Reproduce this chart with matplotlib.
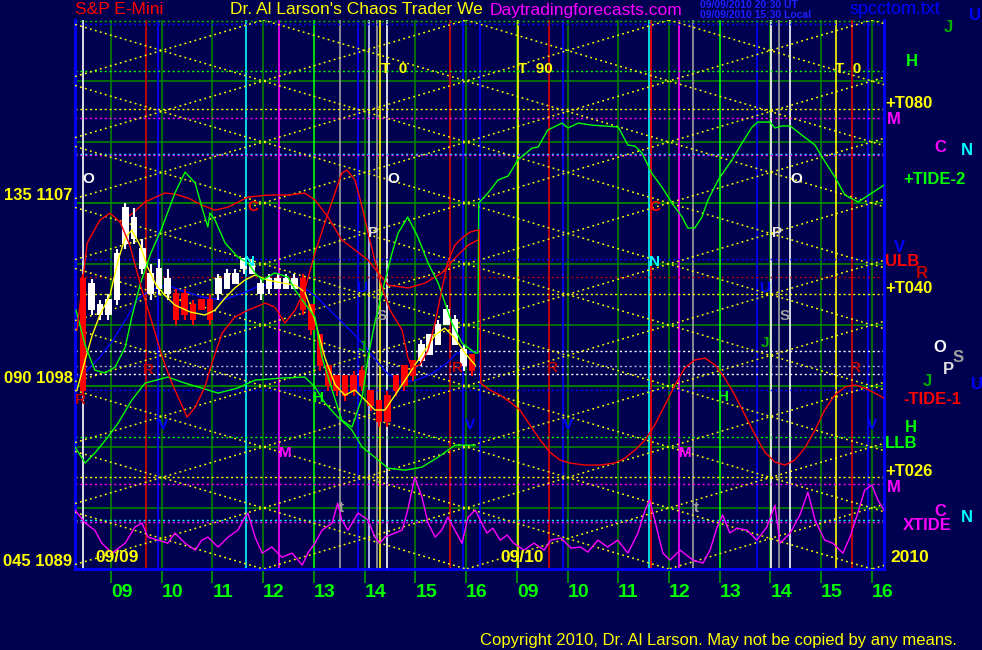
import numpy as np
import matplotlib.pyplot as plt

plt.rcParams['font.family'] = ['Liberation Sans', 'DejaVu Sans']

BG = '#000050'
W, H = 982, 650

# ---------------- axes ranges / labels
price_lo, price_hi = 1089, 1116
hour_lo, hour_hi = 8.29, 24.24
hour_ticks = list(range(9, 25))
hour_labels = ['09', '10', '11', '12', '13', '14', '15', '16'] * 2
grid_prices = [1092, 1095, 1098, 1101, 1104, 1107, 1110, 1113]
left_labels = [(1107, '135 1107'), (1098, '090 1098'), (1089, '045 1089')]

# ---------------- candles (10 min bars, day 1)
bar_start = 8.45
bar_open = [1103.25, 1101.75, 1101.5, 1101.5, 1102.25, 1105.0, 1105.25, 1103.75, 1102.5, 1102.75,
            1102.5, 1102.5, 1102.5, 1102.0, 1102.25, 1102.25, 1102.5, 1102.75, 1103.0, 1103.75,
            1103.5, 1102.5, 1102.75, 1102.75, 1102.75, 1102.75, 1103.25, 1102.0, 1100.5, 1099.0,
            1098.5, 1098.5, 1098.5, 1098.75, 1097.75, 1097.25, 1097.5, 1098.5, 1099.0, 1099.25,
            1099.25, 1099.5, 1100.0, 1101.0, 1100.0, 1099.0, 1099.5]
bar_high = [1103.5, 1103.25, 1102.25, 1102.5, 1104.75, 1107.0, 1106.75, 1105.25, 1104.0, 1104.25,
            1103.75, 1102.75, 1102.75, 1102.25, 1102.25, 1102.5, 1103.5, 1103.75, 1103.75, 1104.25,
            1104.25, 1103.25, 1103.5, 1103.5, 1103.5, 1103.5, 1103.5, 1102.0, 1100.5, 1099.0,
            1098.5, 1098.5, 1098.75, 1099.0, 1097.75, 1097.25, 1097.75, 1098.5, 1099.0, 1099.25,
            1100.25, 1100.5, 1101.25, 1102.0, 1101.5, 1100.0, 1099.5]
bar_low = [1097.5, 1101.5, 1101.25, 1101.25, 1102.0, 1104.75, 1105.0, 1103.5, 1102.25, 1102.5,
           1102.25, 1101.0, 1101.25, 1101.0, 1101.75, 1101.0, 1102.25, 1102.75, 1103.0, 1103.5,
           1103.5, 1102.25, 1102.5, 1102.75, 1102.75, 1102.75, 1101.5, 1100.5, 1098.75, 1097.75,
           1097.5, 1097.25, 1097.5, 1097.75, 1096.75, 1096.0, 1096.0, 1097.5, 1097.75, 1098.25,
           1099.0, 1099.5, 1100.0, 1101.0, 1100.0, 1098.75, 1098.5]
bar_close = [1097.75, 1103.0, 1102.0, 1102.25, 1104.5, 1106.75, 1106.25, 1104.75, 1103.5, 1103.75,
             1103.25, 1101.25, 1101.5, 1101.25, 1101.75, 1101.25, 1103.25, 1103.5, 1103.5, 1104.25,
             1104.0, 1103.0, 1103.25, 1103.25, 1103.25, 1103.25, 1101.75, 1100.75, 1099.0, 1098.0,
             1097.75, 1097.5, 1097.75, 1098.0, 1097.0, 1096.25, 1096.25, 1097.75, 1098.0, 1098.5,
             1100.0, 1100.5, 1101.0, 1101.75, 1101.25, 1099.75, 1098.75]

# ---------------- curves
red1_h = [8.33, 8.53, 8.78, 8.98, 9.18, 9.37, 9.61, 9.81, 10.01, 10.2, 10.5, 10.66, 10.85, 10.99,
          11.19, 11.44, 11.7, 12.04, 12.23, 12.43, 12.63, 12.82, 13.02, 13.28, 13.55, 13.65, 13.81,
          13.95, 14.07, 14.2, 14.34, 14.5, 14.74, 14.85, 14.93, 15.09, 15.25, 15.39, 15.52, 15.64,
          15.78, 15.92, 16.08, 16.23, 16.26, 16.29, 16.47, 16.67, 16.87, 17.06, 17.26, 17.46, 17.65,
          17.85, 18.05, 18.34, 18.64, 18.93, 19.13, 19.33, 19.53, 19.72, 19.92, 20.12, 20.31, 20.51,
          20.71, 20.91, 21.1, 21.3, 21.5, 21.7, 21.89, 22.09, 22.29, 22.48, 22.68, 22.88, 23.07,
          23.27, 23.47, 23.67, 23.86, 24.06, 24.24]
red1_p = [1100.75, 1105.03, 1106.16, 1106.5, 1106.06, 1104.93, 1102.72, 1101.1, 1099.42, 1098.14,
          1096.47, 1096.96, 1097.95, 1099.13, 1100.6, 1101.39, 1101.73, 1102.08, 1101.88, 1101.1,
          1101.73, 1102.72, 1104.54, 1106.51, 1108.47, 1108.62, 1108.13, 1106.8, 1105.52, 1104.19,
          1102.87, 1101.73, 1100.75, 1099.42, 1098.93, 1099.03, 1099.77, 1101.1, 1102.72, 1104.1,
          1104.93, 1105.28, 1105.57, 1105.67, 1105.67, 1098.14, 1097.8, 1097.55, 1097.21, 1096.82,
          1096.08, 1095.34, 1094.75, 1094.36, 1094.21, 1094.11, 1094.11, 1094.21, 1094.45, 1094.85,
          1095.34, 1096.08, 1097.06, 1098.05, 1098.88, 1099.28, 1099.37, 1099.03, 1098.39, 1097.55,
          1096.57, 1095.59, 1094.75, 1094.26, 1094.11, 1094.36, 1094.95, 1095.83, 1096.82, 1097.55,
          1097.95, 1098.05, 1097.9, 1097.65, 1097.41]

red2_h = [9.18, 9.43, 9.67, 10.06, 10.26, 10.52, 10.79, 11.05, 11.31, 11.7, 12.09, 12.49, 12.82,
          13.02, 13.28, 13.55, 13.81, 14.07, 14.27, 14.47, 14.86, 15.19, 15.52, 15.78, 16.04, 16.23]
red2_p = [1106.06, 1106.5, 1107.05, 1107.49, 1107.44, 1107.24, 1106.9, 1106.65, 1106.8, 1107.29,
          1107.39, 1107.39, 1107.49, 1107.15, 1106.31, 1105.18, 1104.69, 1104.19, 1103.56, 1102.96,
          1102.82, 1103.06, 1103.56, 1104.29, 1104.93, 1105.18]

green1_h = [8.31, 8.49, 8.68, 8.88, 9.08, 9.28, 9.41, 9.57, 9.77, 10.01, 10.26, 10.46, 10.66, 10.79,
            10.91, 10.95, 11.05, 11.25, 11.5, 11.7, 11.84, 11.98, 12.23, 12.49, 12.63, 12.77, 13.02,
            13.16, 13.36, 13.55, 13.75, 13.95, 14.07, 14.2, 14.34, 14.54, 14.66, 14.85, 15.05, 15.25,
            15.45, 15.72, 15.92, 16.18, 16.23, 16.25, 16.43, 16.63, 16.83, 17.02, 17.3, 17.42, 17.61,
            17.89, 18.01, 18.21, 18.48, 19.0, 19.19, 19.33, 19.47, 19.66, 19.86, 20.06, 20.26, 20.37,
            20.51, 20.65, 20.77, 20.97, 21.24, 21.44, 21.64, 21.75, 21.99, 22.09, 22.23, 22.39, 22.62,
            22.88, 23.02, 23.27, 23.47, 23.73, 24.0, 24.24]
green1_p = [1101.73, 1100.01, 1098.78, 1098.64, 1098.93, 1099.91, 1101.39, 1102.96, 1104.44, 1105.82,
            1107.49, 1108.52, 1107.98, 1106.8, 1105.82, 1106.51, 1106.16, 1105.03, 1104.34, 1104.05,
            1103.56, 1103.21, 1103.56, 1103.36, 1102.72, 1102.23, 1101.39, 1099.42, 1097.8, 1096.32,
            1095.98, 1097.45, 1099.42, 1101.1, 1102.57, 1104.54, 1105.52, 1106.31, 1105.33, 1104.05,
            1103.06, 1101.1, 1100.11, 1099.62, 1099.62, 1107.0, 1107.49, 1108.13, 1108.33, 1109.11,
            1109.7, 1109.75, 1110.59, 1110.93, 1110.69, 1110.93, 1110.83, 1110.74, 1109.85, 1109.8,
            1109.46, 1108.47, 1107.79, 1107.0, 1106.31, 1105.77, 1105.77, 1106.31, 1107.15, 1108.13,
            1109.11, 1109.95, 1110.74, 1110.98, 1110.98, 1110.69, 1110.79, 1110.79, 1110.34, 1109.85,
            1109.26, 1108.28, 1107.39, 1107.05, 1107.49, 1107.88]

green2_h = [8.29, 8.49, 8.68, 8.94, 9.14, 9.41, 9.67, 10.12, 10.46, 10.79, 11.11, 11.5, 11.84, 12.37,
            12.82, 13.02, 13.22, 13.47, 13.75, 13.95, 14.2, 14.46, 14.8, 15.13, 15.45, 15.78, 16.18]
green2_p = [1095.0, 1094.21, 1094.7, 1095.49, 1096.18, 1097.31, 1098.14, 1098.44, 1098.14, 1097.9,
            1097.65, 1097.9, 1098.29, 1098.39, 1098.44, 1097.95, 1097.16, 1096.47, 1095.83, 1095.0,
            1094.5, 1093.96, 1093.86, 1094.01, 1094.5, 1095.09, 1095.09]

blue_h = [8.33, 8.53, 8.78, 9.04, 9.32, 9.51, 9.77, 10.1, 10.36, 10.81, 11.21, 11.6, 11.88, 12.27,
          12.78, 13.06, 13.45, 13.85, 14.11, 14.44, 14.7, 15.03, 15.35, 15.62, 15.82, 16.02, 16.23]
blue_p = [1098.44, 1098.78, 1099.42, 1100.26, 1101.39, 1102.23, 1102.72, 1102.96, 1102.72, 1102.37,
          1102.23, 1102.57, 1102.87, 1103.06, 1102.87, 1102.37, 1101.39, 1100.41, 1099.62, 1098.64,
          1098.19, 1098.29, 1098.64, 1099.13, 1099.62, 1099.67, 1099.67]

yellow_h = [8.33, 8.49, 8.63, 8.78, 8.98, 9.14, 9.28, 9.41, 9.57, 9.73, 9.89, 10.06, 10.26, 10.56,
            10.85, 11.05, 11.25, 11.44, 11.64, 11.84, 12.09, 12.39, 12.63, 12.82, 13.02, 13.22, 13.42,
            13.61, 13.81, 14.01, 14.2, 14.4, 14.6, 14.8, 14.99, 15.19, 15.39, 15.58, 15.78, 15.98, 16.18]
yellow_p = [1097.8, 1099.28, 1100.5, 1101.49, 1102.47, 1104.19, 1105.28, 1105.67, 1104.93, 1103.8,
            1102.96, 1102.47, 1101.98, 1101.64, 1101.49, 1101.73, 1102.33, 1102.82, 1103.21, 1103.46,
            1103.21, 1103.06, 1102.96, 1102.62, 1101.24, 1099.37, 1098.05, 1097.55, 1097.8, 1097.31,
            1096.82, 1096.82, 1097.55, 1098.29, 1099.03, 1099.77, 1100.5, 1100.85, 1100.36, 1099.62,
            1099.03]

xtide_h = [8.29, 8.49, 8.68, 8.82, 9.02, 9.28, 9.47, 9.61, 9.73, 9.93, 10.12, 10.26, 10.46, 10.66,
           10.79, 10.91, 11.11, 11.31, 11.5, 11.64, 11.7, 11.84, 11.98, 12.17, 12.37, 12.57, 12.77,
           12.88, 13.02, 13.16, 13.36, 13.47, 13.55, 13.67, 13.87, 14.07, 14.2, 14.3, 14.4, 14.6,
           14.74, 14.85, 14.99, 15.13, 15.25, 15.39, 15.52, 15.64, 15.78, 15.92, 16.04, 16.18, 16.31,
           16.41, 16.53, 16.67, 16.81, 16.94, 17.14, 17.34, 17.54, 17.67, 17.87, 18.07, 18.26, 18.4,
           18.6, 18.79, 18.99, 19.19, 19.39, 19.53, 19.62, 19.72, 19.88, 20.02, 20.22, 20.47, 20.67,
           20.81, 20.95, 21.06, 21.2, 21.34, 21.54, 21.73, 21.93, 22.09, 22.19, 22.39, 22.58, 22.74,
           22.88, 23.07, 23.23, 23.43, 23.57, 23.71, 23.86, 24.0, 24.12, 24.24]
xtide_p = [1091.9, 1091.26, 1090.91, 1090.27, 1089.78, 1090.27, 1091.06, 1091.26, 1090.57, 1090.42,
           1090.27, 1090.77, 1090.27, 1089.93, 1090.42, 1090.57, 1090.08, 1090.57, 1090.91, 1091.55,
           1091.75, 1090.57, 1089.78, 1090.08, 1089.58, 1089.78, 1089.19, 1089.78, 1090.27, 1090.91,
           1091.26, 1092.24, 1091.41, 1090.91, 1091.75, 1091.41, 1090.57, 1090.27, 1090.57, 1090.77,
           1090.91, 1091.9, 1093.52, 1092.54, 1091.26, 1090.57, 1090.91, 1091.55, 1090.91, 1090.27,
           1091.55, 1091.9, 1091.26, 1090.77, 1091.01, 1090.42, 1090.67, 1090.27, 1089.93, 1090.27,
           1089.93, 1090.42, 1090.52, 1090.03, 1090.08, 1089.83, 1090.42, 1090.08, 1090.42, 1089.78,
           1090.77, 1091.9, 1092.39, 1091.41, 1089.78, 1089.44, 1089.93, 1089.44, 1089.29, 1089.93,
           1091.06, 1091.65, 1090.77, 1091.01, 1090.91, 1090.42, 1091.06, 1092.14, 1090.27, 1090.77,
           1091.65, 1092.78, 1091.41, 1090.42, 1090.27, 1089.78, 1090.57, 1091.65, 1092.88, 1093.13,
           1092.39, 1091.9]

# ---------------- diagonal lattice (read: apex at 12h / 1116, 3 pt rows, 0.75 pt per hour)
lat_hour, lat_price = 12.0, 1116.0
lat_step = 3.0
lat_slope = 0.75

# ---------------- vertical event lines (hour, colour)
vlines = [(8.45, 'white'), (9.68, '#e00000'), (9.93, '#0000ff'), (11.67, '#00ffff'),
          (12.31, '#ff00ff'), (13.51, '#a0a0a0'), (13.87, '#0000ff'), (14.09, '#c8c8ff'),
          (14.24, '#a0a0a0'), (14.30, '#ffff00'), (14.44, 'white'), (15.68, '#e00000'),
          (15.94, '#0000ff'), (16.27, '#0000ff'), (17.02, '#ffff00'), (17.63, '#e00000'),
          (17.91, '#0000ff'), (19.60, '#00ffff'), (19.64, '#ff0000'), (20.2, '#ff00ff'),
          (20.47, '#a0a0a0'), (21.73, '#0000ff'), (22.01, 'white'), (22.17, '#a0a0a0'),
          (22.39, 'white'), (23.29, '#ffff00'), (23.61, '#e00000'), (23.92, '#0000ff')]

# ---------------- horizontal dotted levels (price, colour)
hlevels = [(1115.95, '#00c000'), (1115.8, '#0000ff'), (1113.5, '#00ff00'), (1111.2, '#ff00ff'),
           (1109.4, '#00ffff'), (1109.35, '#ff00ff'), (1104.25, '#0000ff'), (1103.35, '#c00000'),
           (1111.6, '#ffff00'), (1102.5, '#ffff00'), (1099.7, 'white'), (1099.0, '#b0b0d0'),
           (1098.6, 'white'), (1097.8, '#0000ff'), (1095.5, '#00ff00'), (1093.5, '#ffff00'),
           (1093.2, '#ff00ff'), (1091.4, '#00ffff'), (1091.3, '#ff00ff')]

# ---------------- letters inside plot (hour, price, text, colour)
marks = [(8.55, 1108.2, 'O', 'white'), (14.56, 1108.2, 'O', 'white'), (22.52, 1108.2, 'O', 'white'),
         (11.8, 1106.8, 'C', '#ff0000'), (19.72, 1106.8, 'C', '#ff0000'),
         (11.74, 1104.1, 'N', '#00ffff'), (19.72, 1104.1, 'N', '#00ffff'),
         (14.16, 1105.5, 'P', '#e0e0e0'), (22.13, 1105.5, 'P', '#e0e0e0'),
         (14.34, 1101.45, 'S', '#a0a0a0'), (22.29, 1101.45, 'S', '#a0a0a0'),
         (13.95, 1099.9, 'J', '#00b000'), (21.89, 1100.1, 'J', '#00b000'),
         (13.1, 1097.4, 'H', '#00ff00'), (21.08, 1097.45, 'H', '#00ff00'),
         (10.03, 1096.1, 'V', '#0000ff'), (16.08, 1096.1, 'V', '#0000ff'),
         (18.01, 1096.1, 'V', '#0000ff'), (24.0, 1096.1, 'V', '#0000ff'),
         (12.43, 1094.7, 'M', '#ff00ff'), (20.33, 1094.7, 'M', '#ff00ff'),
         (9.73, 1098.8, 'R', '#c00000'), (15.84, 1098.9, 'R', '#c00000'),
         (17.71, 1098.9, 'R', '#c00000'), (23.67, 1098.9, 'R', '#c00000'), (8.39, 1097.3, 'R', '#c00000'),
         (13.95, 1102.8, 'U', '#0000ff'), (21.89, 1102.8, 'U', '#0000ff'),
         (13.55, 1092.0, 't', '#a0a0a0'), (20.55, 1092.0, 't', '#a0a0a0'),
         (14.58, 1113.6, 'T  0', '#ffff00'), (17.36, 1113.6, 'T  90', '#ffff00'),
         (23.53, 1113.6, 'T  0', '#ffff00')]

fig = plt.figure(figsize=(W / 100, H / 100), dpi=100, facecolor=BG)
ax = fig.add_axes([75 / W, 1 - 569 / H, (884 - 75) / W, (569 - 20) / H])
ax.set_facecolor(BG)
ax.set_xlim(hour_lo, hour_hi)
ax.set_ylim(price_lo, price_hi)

# grid
for p in grid_prices + [1107, 1098]:
    ax.axhline(p, color='#008000', lw=1.2, zorder=1)
for h in hour_ticks:
    c = '#00ff00' if h in (13, 21) else '#008000'
    ax.axvline(h, color=c, lw=1.2, zorder=1)

for h, c in vlines:
    ax.axvline(h, color=c, lw=1.2, zorder=2)

for p, c in hlevels:
    ax.axhline(p, color=c, lw=1.0, ls=(0, (1.5, 2)), zorder=2)

# lattice
for k in range(-8, 18):
    for sgn in (1, -1):
        p0 = lat_price - lat_step * k + sgn * lat_slope * (hour_lo - lat_hour)
        p1 = lat_price - lat_step * k + sgn * lat_slope * (hour_hi - lat_hour)
        ax.plot([hour_lo, hour_hi], [p0, p1], color='#ffff00', lw=1.1,
                ls=(0, (1.2, 2.2)), zorder=3)

# curves
ax.plot(xtide_h, xtide_p, color='#ff00ff', lw=1.0, zorder=4)
ax.plot(blue_h, blue_p, color='#0000ff', lw=1.0, zorder=4)
ax.plot(green2_h, green2_p, color='#00ff00', lw=1.0, zorder=4)
ax.plot(red2_h, red2_p, color='#ff0000', lw=1.0, zorder=4)

# candles
bar_hours = bar_start + np.arange(len(bar_open)) / 6.0
o = np.array(bar_open)
c = np.array(bar_close)
cols = np.where(c >= o, 'white', '#ff0000')
ax.vlines(bar_hours, bar_low, bar_high, colors=cols, lw=1.5, zorder=5)
ax.bar(bar_hours, np.abs(c - o) + 0.05, bottom=np.minimum(o, c), width=0.13,
       color=cols, zorder=5)

ax.plot(yellow_h, yellow_p, color='#ffff00', lw=1.0, zorder=6)
ax.plot(green1_h, green1_p, color='#00ff00', lw=1.0, zorder=6)
ax.plot(red1_h, red1_p, color='#ff0000', lw=1.0, zorder=6)

for h, p, s, col in marks:
    ax.text(h, p, s, color=col, fontsize=11, fontweight='bold', ha='center', va='center', zorder=7)

# border
for side in ('left', 'right', 'bottom'):
    ax.spines[side].set_color('#0000ff')
    ax.spines[side].set_linewidth(2)
ax.spines['top'].set_visible(False)
ax.set_xticks(hour_ticks)
ax.set_xticklabels(hour_labels, color='#00ff00', fontsize=14, fontweight='bold', ha='left')
ax.tick_params(axis='x', colors='#00a000', length=10, width=1.2, pad=1, labelcolor='#00ff00')
ax.set_yticks([])

for p, s in left_labels:
    ax.text(-0.003, p, s, transform=ax.get_yaxis_transform(), color='#ffff00', fontsize=12,
            fontweight='bold', ha='right', va='bottom')


def ftxt(x, y, s, col, size, ha='left', weight='normal'):
    fig.text(x / W, 1 - y / H, s, color=col, fontsize=size, ha=ha, va='center',
             fontweight=weight)


ftxt(75, 10, 'S&P E-Mini', '#ff0000', 12.5)
ftxt(230, 10, "Dr. Al Larson's Chaos Trader We", '#ffff00', 12.5)
ftxt(490, 10, 'Daytradingforecasts.com', '#ff00ff', 12.5)
ftxt(700, 5, '09/09/2010 20:30 UT', '#2020ff', 7.5, weight='bold')
ftxt(700, 15, '09/09/2010 15:30 Local', '#2020ff', 7.5, weight='bold')
ftxt(850, 10, 'spcctom.txt', '#0000ff', 13)
ftxt(480, 640, 'Copyright 2010, Dr. Al Larson. May not be copied by any means.', '#ffff00', 12)

ftxt(95, 558, '09/09', '#ffff00', 12.5, weight='bold')
ftxt(500, 558, '09/10', '#ffff00', 12.5, weight='bold')
ftxt(890, 558, '2010', '#ffff00', 12.5, weight='bold')

# right side legend letters
side = [(944, 27, 'J', '#00b000'), (969, 15, 'U', '#0000ff'), (906, 62, 'H', '#00ff00'),
        (887, 119, 'M', '#ff00ff'), (934, 148, 'C', '#ff00ff'), (961, 150, 'N', '#00ffff'),
        (903, 180, '+TIDE-2', '#00ff00'), (894, 247, 'V', '#0000ff'), (885, 262, 'ULB', '#ff0000'),
        (916, 274, 'R', '#c00000'), (933, 347, 'O', 'white'), (953, 358, 'S', '#a0a0a0'),
        (943, 370, 'P', '#e0e0e0'), (923, 382, 'J', '#00b000'), (971, 384, 'U', '#0000ff'),
        (903, 399, '-TIDE-1', '#ff0000'), (905, 428, 'H', '#00ff00'), (885, 444, 'LLB', '#00ff00'),
        (887, 487, 'M', '#ff00ff'), (934, 511, 'C', '#ff00ff'), (961, 517, 'N', '#00ffff'),
        (903, 525, 'XTIDE', '#ff00ff')]
for x, y, s, col in side:
    ftxt(x, y, s, col, 12, weight='bold')

for y, s in [(103, '+T080'), (288, '+T040'), (471, '+T026')]:
    ftxt(885, y, s, '#ffff00', 12, weight='bold')

fig.savefig('out.png', dpi=100, facecolor=BG)
